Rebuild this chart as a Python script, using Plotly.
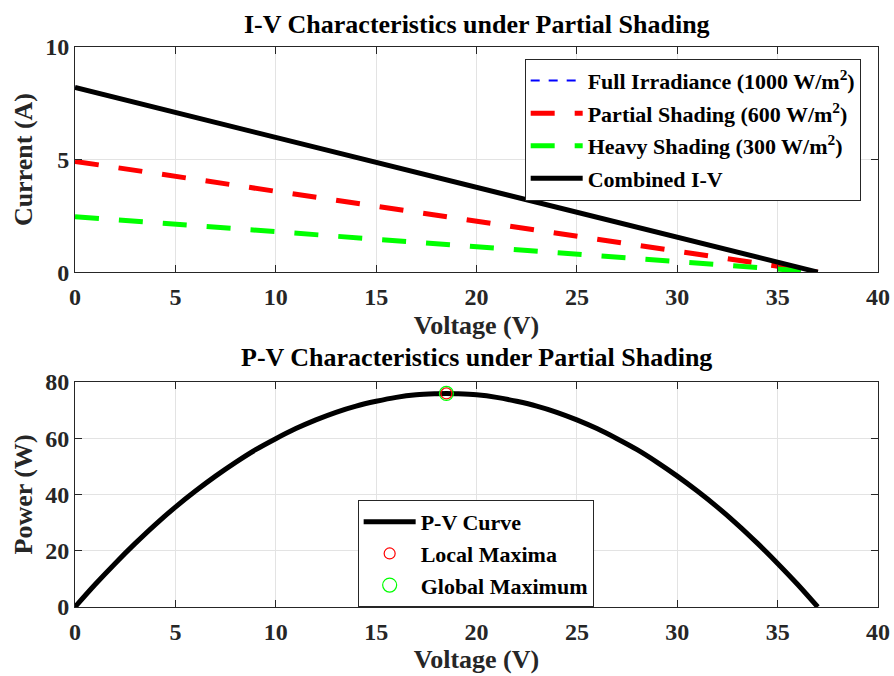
import plotly.graph_objects as go

# ---- data ----
iv_voltage = [0, 37]
iv_full = [8.2, 0.0]
iv_partial = [4.92, 0.0]
iv_heavy = [2.46, 0.0]
iv_combined = [8.2, 0.0]

pv_voltage = [0, 1, 2, 3, 4, 5, 6, 7, 8, 9, 10, 11, 12, 13, 14, 15, 16, 17, 18, 18.5,
              19, 20, 21, 22, 23, 24, 25, 26, 27, 28, 29, 30, 31, 32, 33, 34, 35, 36, 37]
pv_power = [0.0, 8.0, 15.5, 22.6, 29.3, 35.5, 41.2, 46.5, 51.4, 55.9, 59.8, 63.4, 66.5,
            69.2, 71.4, 73.1, 74.5, 75.4, 75.8, 75.9, 75.8, 75.4, 74.5, 73.1, 71.4, 69.2,
            66.5, 63.4, 59.8, 55.9, 51.4, 46.5, 41.2, 35.5, 29.3, 22.6, 15.5, 8.0, 0.0]
local_max_v = [18.5]
local_max_p = [75.9]
global_max_v = [18.5]
global_max_p = [75.9]

x_ticks = [0, 5, 10, 15, 20, 25, 30, 35, 40]
iv_yticks = [0, 5, 10]
pv_yticks = [0, 20, 40, 60, 80]

FONT = "Liberation Serif"
INK = "#262626"

fig = go.Figure()
fig.add_trace(go.Scatter(x=iv_voltage, y=iv_full, mode="lines",
                         name="Full Irradiance (1000 W/m<sup>2</sup>)",
                         line=dict(color="#0000ff", width=2, dash="9px,9px"),
                         xaxis="x", yaxis="y", legend="legend", legendgroup="a"))
fig.add_trace(go.Scatter(x=iv_voltage, y=iv_partial, mode="lines",
                         name="Partial Shading (600 W/m<sup>2</sup>)",
                         line=dict(color="#ff0000", width=5, dash="24px,20px"),
                         xaxis="x", yaxis="y", legend="legend", legendgroup="b"))
fig.add_trace(go.Scatter(x=iv_voltage, y=iv_heavy, mode="lines",
                         name="Heavy Shading (300 W/m<sup>2</sup>)",
                         line=dict(color="#00ff00", width=5, dash="24px,20px"),
                         xaxis="x", yaxis="y", legend="legend", legendgroup="c"))
fig.add_trace(go.Scatter(x=iv_voltage, y=iv_combined, mode="lines",
                         name="Combined I-V",
                         line=dict(color="#000000", width=5),
                         xaxis="x", yaxis="y", legend="legend", legendgroup="d"))

fig.add_trace(go.Scatter(x=pv_voltage, y=pv_power, mode="lines", name="P-V Curve",
                         line=dict(color="#000000", width=5, shape="spline"),
                         xaxis="x2", yaxis="y2", legend="legend2"))
fig.add_trace(go.Scatter(x=local_max_v, y=local_max_p, mode="markers", name="Local Maxima",
                         marker=dict(symbol="circle-open", size=11, color="#ff0000",
                                     line=dict(width=1.2, color="#ff0000")),
                         xaxis="x2", yaxis="y2", legend="legend2"))
fig.add_trace(go.Scatter(x=global_max_v, y=global_max_p, mode="markers", name="Global Maximum",
                         marker=dict(symbol="circle-open", size=14, color="#00ff00",
                                     line=dict(width=1.2, color="#00ff00")),
                         xaxis="x2", yaxis="y2", legend="legend2"))

axis_common = dict(
    showline=True, linecolor=INK, linewidth=1, mirror="ticks",
    ticks="inside", ticklen=7, tickcolor=INK, automargin=False,
    showgrid=True, gridcolor="#e3e3e3", gridwidth=1, zeroline=False,
    tickfont=dict(family=FONT, size=24, color=INK, weight="bold"),
)
xtitle_font = dict(family=FONT, size=26, color=INK, weight="bold")

fig.update_layout(
    width=894, height=676,
    margin=dict(l=75, r=16, t=47, b=69, autoexpand=False),
    paper_bgcolor="white", plot_bgcolor="white",
    font=dict(family=FONT, color=INK),
    xaxis=dict(axis_common, domain=[0, 1], range=[0, 40], tickvals=x_ticks, anchor="y",
               ticklabelstandoff=3,
               title=dict(text="Voltage (V)", standoff=6, font=xtitle_font)),
    yaxis=dict(axis_common, domain=[0.598, 1], range=[0, 10], tickvals=iv_yticks, anchor="x",
               title=dict(text="Current (A)", standoff=5, font=xtitle_font)),
    xaxis2=dict(axis_common, domain=[0, 1], range=[0, 40], tickvals=x_ticks, anchor="y2",
                ticklabelstandoff=3,
                title=dict(text="Voltage (V)", standoff=6, font=xtitle_font)),
    yaxis2=dict(axis_common, domain=[0, 0.402], range=[0, 80], tickvals=pv_yticks, anchor="x2",
                title=dict(text="Power (W)", standoff=5, font=xtitle_font)),
    legend=dict(x=0.560, y=0.979, xanchor="left", yanchor="top",
                bgcolor="white", bordercolor=INK, borderwidth=1,
                font=dict(family=FONT, size=22, color="#000000", weight="bold"),
                tracegroupgap=1, itemwidth=52),
    legend2=dict(x=0.352, y=0.191, xanchor="left", yanchor="top",
                 bgcolor="white", bordercolor=INK, borderwidth=1,
                 font=dict(family=FONT, size=22, color="#000000", weight="bold"),
                 tracegroupgap=0, itemwidth=52),
    annotations=[
        dict(text="I-V Characteristics under Partial Shading", xref="paper", yref="paper",
             x=0.5, y=1.0, yshift=6, xanchor="center", yanchor="bottom", showarrow=False,
             font=dict(family=FONT, size=26, color="#000000", weight="bold")),
        dict(text="P-V Characteristics under Partial Shading", xref="paper", yref="paper",
             x=0.5, y=0.402, yshift=8, xanchor="center", yanchor="bottom", showarrow=False,
             font=dict(family=FONT, size=26, color="#000000", weight="bold")),
    ],
)

fig.write_html("out.html")
